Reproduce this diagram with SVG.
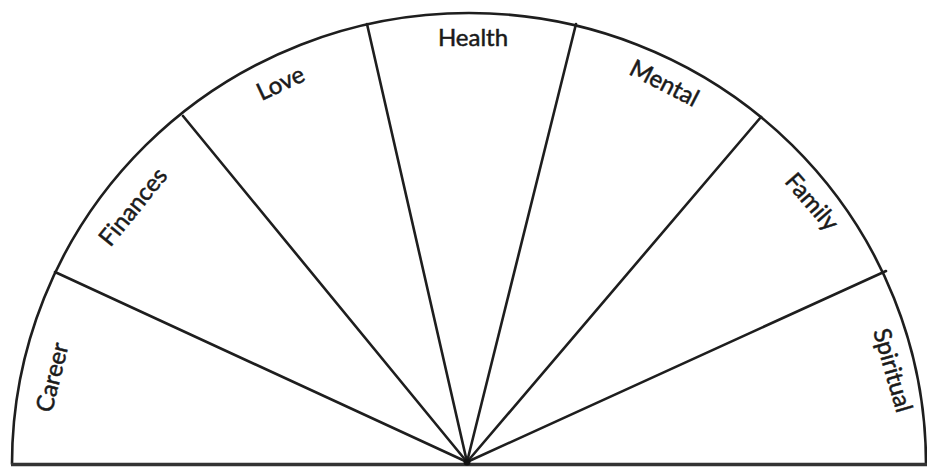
<svg xmlns="http://www.w3.org/2000/svg" width="927" height="471" viewBox="0 0 927 471">
<style>
.ln{fill:none;stroke:#1e1e1e;stroke-width:2.6;stroke-linecap:round}
.lbl{font-family:Lato,"Open Sans","DejaVu Sans",sans-serif;font-size:24px;fill:#1a1a1a;stroke:#1a1a1a;stroke-width:0.5;text-anchor:middle;dominant-baseline:central}
</style>
<rect width="927" height="471" fill="#ffffff"/>
<g id="frame">
<path class="ln" d="M12,464 A457,451 0 0 1 926,464"/>
<line x1="11" y1="464.5" x2="927" y2="464.5" stroke="#333" stroke-width="3.5"/>
</g>
<g id="connectors">
<line class="ln" x1="467" y1="462" x2="55" y2="272"/>
<line class="ln" x1="467" y1="462" x2="183" y2="116"/>
<line class="ln" x1="467" y1="462" x2="367" y2="24"/>
<line class="ln" x1="467" y1="462" x2="576" y2="24"/>
<line class="ln" x1="467" y1="462" x2="761" y2="117"/>
<line class="ln" x1="467" y1="462" x2="886" y2="271"/>
<circle cx="467" cy="462" r="3.5" fill="#111"/>
</g>
<g id="career"><text class="lbl" transform="translate(51,377) rotate(-76)">Career</text></g>
<g id="finances"><text class="lbl" transform="translate(132,206) rotate(-51)">Finances</text></g>
<g id="love"><text class="lbl" transform="translate(280,82) rotate(-25)">Love</text></g>
<g id="health"><text class="lbl" transform="translate(473,36)">Health</text></g>
<g id="mental"><text class="lbl" transform="translate(665,82) rotate(27)">Mental</text></g>
<g id="family"><text class="lbl" transform="translate(813,201) rotate(49)">Family</text></g>
<g id="spiritual"><text class="lbl" transform="translate(894,370) rotate(74)">Spiritual</text></g>
</svg>
